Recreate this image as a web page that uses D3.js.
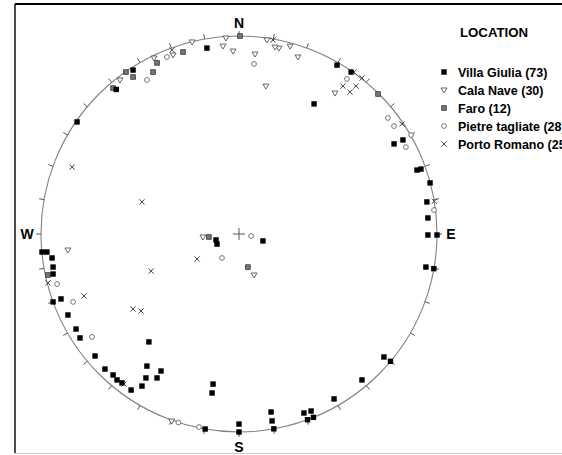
<!DOCTYPE html>
<html>
<head>
<meta charset="utf-8">
<script src="https://cdn.jsdelivr.net/npm/d3@7"></script>
<style>
body { margin: 0; background: #fff; }
svg { display: block; font-family: "Liberation Sans", Arial, sans-serif; }
</style>
</head>
<body>
<div class="chart"></div>
<script>
// poles as east / north position in % of the net radius
var villaGiulia = [[-62,73],[-53.5,82.8],[-16.2,93.9],[37.9,65.7],[49.5,85.3],[56.6,81.8],[78.3,45.5],[82.8,47.5],
  [89.9,32.3],[91.9,32.8],[96.5,25.8],[94.9,16.2],[95.4,8.1],[95.4,-0.5],[100,-0.5],[94.4,-16.7],[98.4,-17.5],
  [73.2,-62.1],[76.5,-64.3],[62.1,-73.7],[48,-83.3],[32.8,-90.4],[36.4,-89.4],[34.6,-93.8],[37.6,-92.6],
  [16.2,-89.9],[16.7,-94.4],[17.6,-98.4],[0,-96],[0,-100],[-17.1,-98.5],[-13.1,-75.8],[-13.6,-80.3],
  [-54.5,-78.8],[-49,-76.8],[-47,-72.7],[-46.5,-66.7],[-41.4,-72.7],[-39.4,-69.2],[-45.5,-54.5],
  [-59.1,-75.2],[-61.6,-73.7],[-63.6,-71.2],[-67.7,-68.2],[-72.7,-61.6],[-80.3,-52.5],[-82.3,-48],
  [-86.4,-40.9],[-93.9,-34.3],[-89.9,-32.8],[-93.9,-16.7],[-93.9,-20.2],[-94.4,-12.1],[-99.5,-9.1],
  [-97,-9.1],[-11.1,-5.1],[-11.6,-3],[12.1,-3.5],[-81.8,56.6]];
var calaNave = [[-86.4,-8.1],[-18.2,-1.5],[-60.1,77.8],[-42.9,88.9],[-33.3,90.4],[-23.7,97],[-8.1,94.9],
  [-3,92.4],[-6.6,99],[8.1,90.9],[13.6,74.7],[14.1,98],[20.2,93.9],[25.8,94.9],[29.8,89.4],[18.2,94.4],
  [7.6,-20.7],[48.5,71.2],[-34,-94.5]];
var faro = [[-63.6,73.7],[-57.1,81.8],[-53.5,79.3],[-43.4,81.8],[-41.4,86.4],[-28.3,91.9],[-15.2,-1.5],
  [4.5,-16.7],[70.2,70.7],[0.5,100],[-96.5,-20.7]];
var pietreTagliate = [[-46.5,77.8],[-36.4,89.4],[7.6,85.9],[54.5,78.3],[75.2,58.6],[78.3,54.5],[86.9,50],
  [84.3,43.9],[98.5,12.1],[-91.9,-25.3],[-83.8,-34.3],[-74.2,-52],[-30.6,-95.2],[-20.2,-97.5],
  [-8.6,-12.1],[6.1,-1]];
var portoRomano = [[-84.3,33.8],[-49,16.2],[-21.2,-12.6],[-44.4,-18.7],[-53.5,-37.9],[-49.5,-38.9],
  [-96.5,-24.7],[-33.8,92.9],[17.2,98],[58.1,81.8],[62.1,78.8],[52.5,74.7],[59.1,74.7],[56.1,71.7],
  [82.3,55.6],[98.6,16.5],[-78.3,-31.3],[-58.1,-75.8]];

var legendLabels = ["Villa Giulia (73)", "Cala Nave (30)", "Faro (12)", "Pietre tagliate (28)", "Porto Romano (25)"];
var cardinals = ["N", "E", "S", "W"];

var width = 562, height = 455;
var cx = 239, cy = 234, R = 198;

var x = d3.scaleLinear().domain([-100, 100]).range([cx - R, cx + R]);
var y = d3.scaleLinear().domain([-100, 100]).range([cy + R, cy - R]);

var svg = d3.select(".chart").append("svg")
  .attr("width", width)
  .attr("height", height);

// frame
svg.append("line").attr("x1", 15).attr("x2", width).attr("y1", 4).attr("y2", 4)
  .attr("stroke", "#000").attr("stroke-width", 2);
svg.append("line").attr("x1", 15).attr("x2", 15).attr("y1", 4).attr("y2", 453)
  .attr("stroke", "#111").attr("stroke-width", 1.5);
svg.append("line").attr("x1", 15).attr("x2", width).attr("y1", 453.5).attr("y2", 453.5)
  .attr("stroke", "#c8c8c8").attr("stroke-width", 1);

// primitive circle
svg.append("circle").attr("cx", x(0)).attr("cy", y(0)).attr("r", x(100) - x(0))
  .attr("fill", "none").attr("stroke", "#808080").attr("stroke-width", 1.1);

// 10 degree ticks
var ang = d3.range(0, 360, 10);
svg.selectAll(".tick").data(ang).enter().append("line")
  .attr("class", "tick")
  .attr("x1", function(d) { return x(100 * Math.sin(d * Math.PI / 180)); })
  .attr("y1", function(d) { return y(100 * Math.cos(d * Math.PI / 180)); })
  .attr("x2", function(d) { return x(102.5 * Math.sin(d * Math.PI / 180)); })
  .attr("y2", function(d) { return y(102.5 * Math.cos(d * Math.PI / 180)); })
  .attr("stroke", "#555").attr("stroke-width", 1);

// centre cross
svg.append("line").attr("x1", x(-3)).attr("x2", x(3)).attr("y1", y(0)).attr("y2", y(0)).attr("stroke", "#555");
svg.append("line").attr("x1", x(0)).attr("x2", x(0)).attr("y1", y(-3)).attr("y2", y(3)).attr("stroke", "#555");

// N E S W
var cardR = [106.5, 107, 107.5, 107];
svg.selectAll(".card").data(cardinals).enter().append("text")
  .attr("class", "card")
  .attr("x", function(d, i) { return x(cardR[i] * Math.sin(i * Math.PI / 2)); })
  .attr("y", function(d, i) { return y(cardR[i] * Math.cos(i * Math.PI / 2)) + 5; })
  .attr("text-anchor", "middle")
  .attr("font-size", 14).attr("font-weight", "bold")
  .text(function(d) { return d; });

// marker shapes
function mark(g, k) {
  if (k == 0) {
    g.append("rect").attr("x", -2.7).attr("y", -2.7).attr("width", 5.4).attr("height", 5.4).attr("fill", "#000");
  }
  if (k == 1) {
    g.append("path").attr("d", "M-3,-2L3,-2L0,3Z").attr("fill", "#fff").attr("stroke", "#555").attr("stroke-width", 0.9);
  }
  if (k == 2) {
    g.append("rect").attr("x", -2.3).attr("y", -2.3).attr("width", 4.6).attr("height", 4.6)
      .attr("fill", "#777").attr("stroke", "#333").attr("stroke-width", 0.8);
  }
  if (k == 3) {
    g.append("circle").attr("r", 2.4).attr("fill", "#fff").attr("stroke", "#666").attr("stroke-width", 0.9);
  }
  if (k == 4) {
    g.append("path").attr("d", "M-2.6,-2.6L2.6,2.6M-2.6,2.6L2.6,-2.6").attr("stroke", "#444").attr("stroke-width", 1);
  }
}

var groups = [villaGiulia, calaNave, faro, pietreTagliate, portoRomano];
// draw open symbols first, solid squares on top
[3, 1, 4, 2, 0].forEach(function(k) {
  svg.append("g").selectAll("g").data(groups[k]).enter().append("g")
    .attr("transform", function(d) { return "translate(" + x(d[0]) + "," + y(d[1]) + ")"; })
    .each(function() { mark(d3.select(this), k); });
});

// legend
svg.append("text").attr("x", 460).attr("y", 37).attr("font-size", 12.5).attr("font-weight", "bold")
  .attr("textLength", 68).attr("lengthAdjust", "spacingAndGlyphs")
  .text("LOCATION");
var leg = svg.selectAll(".leg").data(legendLabels).enter().append("g")
  .attr("class", "leg")
  .attr("transform", function(d, i) { return "translate(444," + (72 + i * 18) + ")"; });
leg.each(function(d, i) { mark(d3.select(this), i); });
leg.append("text").attr("x", 14).attr("y", 4.5).attr("font-size", 12.5).attr("font-weight", "bold")
  .text(function(d) { return d; });
</script>
</body>
</html>
